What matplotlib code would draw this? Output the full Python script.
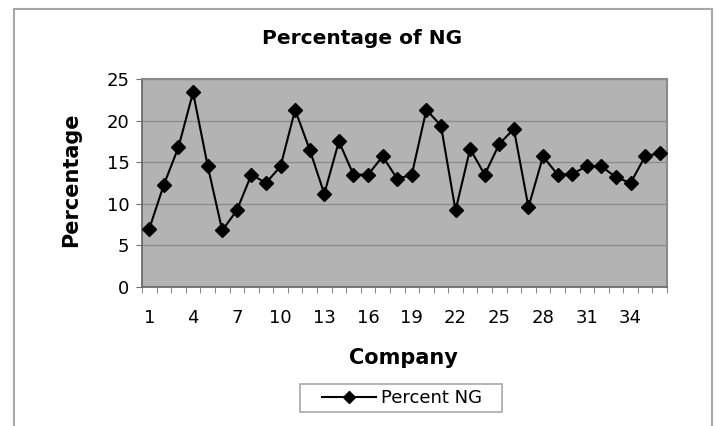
import numpy as np
import matplotlib.pyplot as plt
from matplotlib.patches import Rectangle

# values
companies = list(range(1, 37))
percent_ng = [7.0, 12.3, 16.8, 23.4, 14.6, 6.8, 9.2, 13.5, 12.5, 14.5,
              21.3, 16.5, 11.2, 17.5, 13.5, 13.5, 15.7, 13.0, 13.5, 21.3,
              19.4, 9.2, 16.6, 13.5, 17.2, 19.0, 9.6, 15.7, 13.5, 13.6,
              14.5, 14.5, 13.2, 12.5, 15.7, 16.1]
x_labels = [1, 4, 7, 10, 13, 16, 19, 22, 25, 28, 31, 34]
y_ticks = [0, 5, 10, 15, 20, 25]

plt.rcParams['font.family'] = ['DejaVu Sans']

fig = plt.figure(figsize=(7.17, 4.26), dpi=100)

# light grey chart-area frame like the spreadsheet export
fig.patches.append(Rectangle((14 / 717, -0.05), (712 - 14) / 717, 1 - 9 / 426 + 0.05,
                             transform=fig.transFigure, fill=False,
                             edgecolor='#a8a8a8', linewidth=1.5))

ax = fig.add_axes([142 / 717, 1 - 287 / 426, (667 - 142) / 717, (287 - 79) / 426])
ax.set_facecolor('#b3b3b3')

ax.plot(companies, percent_ng, color='black', linewidth=1.5,
        marker='D', markersize=7, label='Percent NG', zorder=3)

ax.set_xlim(0.5, 36.5)
ax.set_ylim(0, 25)
ax.set_yticks(y_ticks)
ax.set_xticks(x_labels)
ax.set_xticks(np.arange(0.5, 37, 1), minor=True)
ax.tick_params(axis='x', which='major', length=0, pad=16, labelsize=13)
ax.tick_params(axis='x', which='minor', length=4, color='#707070')
ax.tick_params(axis='y', length=4, color='#707070', labelsize=13, pad=5)

ax.yaxis.grid(True, color='#8c8c8c', linewidth=1.0)
ax.set_axisbelow(True)
for side in ['top', 'right']:
    ax.spines[side].set_color('#8a8a8a')
    ax.spines[side].set_linewidth(1.5)
for side in ['left', 'bottom']:
    ax.spines[side].set_color('#6a6a6a')
    ax.spines[side].set_linewidth(1.3)

fig.text(362 / 717, 1 - 39 / 426, 'Percentage of NG', ha='center', va='center',
         fontsize=14.5, fontweight='bold')
fig.text(403 / 717, 1 - 358 / 426, 'Company', ha='center', va='center',
         fontsize=15, fontweight='bold')
fig.text(71 / 717, 1 - 180 / 426, 'Percentage', ha='center', va='center',
         rotation=90, fontsize=15, fontweight='bold')

# legend box is wider than matplotlib's padding gives, so draw the frame separately
fig.patches.append(Rectangle((300 / 717, 1 - 412 / 426), 202 / 717, 28 / 426,
                             transform=fig.transFigure, fill=False,
                             edgecolor='#a8a8a8', linewidth=1.2))
leg = fig.legend(loc='center', bbox_to_anchor=(402 / 717, 1 - 398 / 426),
                 fontsize=13, frameon=False, handlelength=3.0,
                 handletextpad=0.3, markerscale=0.85, borderpad=0.2)

plt.savefig('out.png', dpi=100)
